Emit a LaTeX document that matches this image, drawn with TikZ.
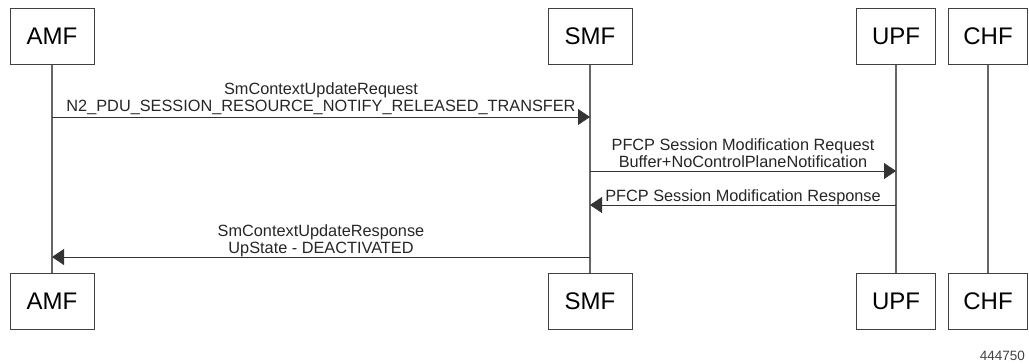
\documentclass[tikz,border=0pt]{standalone}
\usepackage{fontspec}
\setmainfont{Liberation Sans}
\usetikzlibrary{arrows.meta}
\tikzset{nf/.style = {shape=rectangle,draw=black!75,line width=0.9pt,minimum width=84pt,minimum height=56pt,inner sep=0pt,font=\fontsize{24}{27}\selectfont}}
\tikzset{life/.style = {draw=black!60,line width=1.2pt}}
\tikzset{msg/.style = {-{Triangle[length=12pt,width=16pt]},line width=0.8pt,draw=black!80}}
\tikzset{lbl/.style = {above,inner sep=0pt,text depth=0pt,yshift=3pt,align=center,text=black!85,font=\fontsize{16.3}{17.5}\selectfont}}

\begin{document}
\begin{tikzpicture}[x=1pt,y=-1pt]
\useasboundingbox (0,0) rectangle (1029,364);

\node[nf] (amfT) at (52,36.5) {AMF};
\node[nf] (smfT) at (590,36.5) {SMF};
\node[nf,minimum width=79pt] (upfT) at (896,36.5) {UPF};
\node[nf,minimum width=79pt] (chfT) at (988,36.5) {CHF};

\node[nf] (amfB) at (52,301) {AMF};
\node[nf] (smfB) at (590,301) {SMF};
\node[nf,minimum width=79pt] (upfB) at (896,301) {UPF};
\node[nf,minimum width=79pt] (chfB) at (988,301) {CHF};

\draw[life] (amfT) -- (amfB);
\draw[life] (smfT) -- (smfB);
\draw[life] (upfT) -- (upfB);
\draw[life] (chfT) -- (chfB);

\coordinate (m1) at (0,117);
\coordinate (m2) at (0,171);
\coordinate (m3) at (0,205);
\coordinate (m4) at (0,257);

\draw[msg] (amfT |- m1) -- node[lbl,yshift=2pt] {SmContextUpdateRequest\\N2\_PDU\_SESSION\_RESOURCE\_NOTIFY\_RELEASED\_TRANSFER} (smfT |- m1);
\draw[msg] (smfT |- m2) -- node[lbl] {PFCP Session Modification Request\\Buffer+NoControlPlaneNotification} (upfT |- m2);
\draw[msg] (upfT |- m3) -- node[lbl] {PFCP Session Modification Response} (smfT |- m3);
\draw[msg] (smfT |- m4) -- node[lbl] {SmContextUpdateResponse\\UpState - DEACTIVATED} (amfT |- m4);

\node[anchor=base east,inner sep=0pt,text=black!75,font=\fontsize{13.5}{14}\selectfont] (fig) at (1025,360) {444750};
\end{tikzpicture}
\end{document}
